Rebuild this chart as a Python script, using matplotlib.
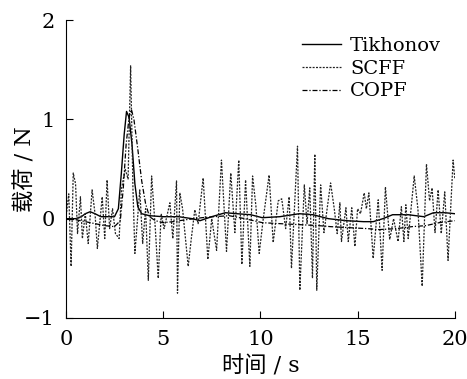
import matplotlib.pyplot as plt

# Tikhonov (smooth solid line)
t_tik = [0, 0.5, 0.8, 1.0, 1.25, 1.5, 1.8, 2.1, 2.5, 2.7, 2.85, 3.0, 3.12, 3.25,
         3.4, 3.55, 3.7, 3.9, 4.3, 5.0, 5.8, 6.5, 6.9, 7.5, 8.2, 8.8, 9.5, 10.1,
         11.0, 12.0, 12.7, 13.5, 14.4, 15.3, 15.8, 16.3, 16.8, 17.6, 18.4, 18.9,
         19.5, 20.0]
f_tik = [0.0, 0.0, 0.02, 0.05, 0.07, 0.05, 0.02, 0.02, 0.02, 0.1, 0.45, 0.85,
         1.08, 1.02, 0.75, 0.35, 0.12, 0.05, 0.03, 0.02, 0.02, 0.0, -0.02, 0.02,
         0.06, 0.05, 0.04, 0.01, 0.02, 0.05, 0.04, 0.0, -0.02, -0.03, -0.03, 0.0,
         0.04, 0.04, 0.02, 0.06, 0.06, 0.05]

# SCFF (noisy dotted line)
t_scff = [0.0, 0.15, 0.27, 0.38, 0.5, 0.6, 0.75, 0.85, 1.0, 1.15, 1.35, 1.5,
          1.62, 1.87, 2.0, 2.12, 2.25, 2.4, 2.55, 2.74, 2.86, 3.05, 3.2, 3.33,
          3.45, 3.55, 3.8, 3.95, 4.1, 4.24, 4.41, 4.6, 4.75, 4.9, 5.05, 5.35,
          5.5, 5.69, 5.74, 5.86, 6.0, 6.15, 6.29, 6.45, 6.63, 6.8, 7.06, 7.3,
          7.5, 7.75, 8.0, 8.26, 8.48, 8.69, 8.89, 9.05, 9.24, 9.46, 9.6, 9.77,
          9.94, 10.15, 10.45, 10.66, 10.92, 11.1, 11.3, 11.48, 11.6, 11.91,
          12.03, 12.26, 12.4, 12.54, 12.68, 12.8, 12.9, 13.1, 13.27, 13.61,
          13.8, 13.95, 14.09, 14.17, 14.4, 14.52, 14.7, 14.86, 15.0, 15.15,
          15.34, 15.45, 15.58, 15.8, 16.06, 16.26, 16.43, 16.65, 16.85, 17.08,
          17.25, 17.38, 17.48, 17.6, 17.91, 18.1, 18.32, 18.54, 18.7, 18.83,
          18.98, 19.14, 19.3, 19.48, 19.65, 19.91, 20.0]
f_scff = [0.0, 0.25, -0.48, 0.46, 0.35, -0.15, 0.22, -0.2, 0.05, -0.25, 0.29,
          0.05, -0.3, 0.22, -0.2, 0.39, -0.1, 0.1, -0.15, -0.2, 0.3, 0.5, 0.4,
          1.54, 0.3, -0.35, 0.29, -0.25, 0.1, -0.62, 0.43, -0.1, -0.6, 0.05,
          -0.1, 0.16, -0.2, 0.38, -0.75, 0.26, 0.1, -0.2, -0.48, -0.2, 0.09,
          -0.05, 0.41, -0.41, 0.0, -0.32, 0.59, -0.33, 0.46, -0.14, 0.59,
          -0.46, 0.39, -0.48, 0.43, 0.13, -0.35, 0.0, 0.44, -0.24, 0.18, 0.2,
          -0.1, 0.22, -0.5, 0.73, -0.72, 0.34, -0.05, 0.31, -0.6, 0.65, -0.72,
          0.34, -0.14, 0.36, 0.1, -0.15, 0.16, -0.23, 0.11, -0.23, 0.11, -0.28,
          0.1, 0.05, 0.26, 0.1, 0.26, -0.4, 0.19, -0.52, 0.32, -0.21, 0.0,
          -0.23, 0.12, -0.23, 0.14, -0.2, 0.43, 0.1, -0.68, 0.55, 0.18, 0.31,
          -0.14, 0.29, -0.15, 0.27, -0.42, 0.59, 0.4]

# COPF (smooth dash-dot line)
t_copf = [0, 0.5, 1.0, 1.5, 2.0, 2.5, 2.8, 2.95, 3.1, 3.25, 3.37, 3.5, 3.7,
          3.9, 4.1, 4.3, 4.6, 5.0, 5.5, 6.2, 7.0, 7.6, 8.4, 9.2, 10.1, 11.0,
          12.0, 13.0, 13.6, 14.5, 15.5, 16.1, 17.0, 17.8, 18.5, 19.2, 20.0]
f_copf = [0.0, -0.01, -0.03, -0.05, -0.07, -0.08, -0.02, 0.3, 0.75, 1.02, 1.1,
          1.0, 0.7, 0.38, 0.15, 0.02, -0.02, -0.04, -0.03, -0.01, 0.01, 0.02,
          0.03, 0.0, -0.04, -0.05, -0.06, -0.07, -0.08, -0.09, -0.1, -0.11,
          -0.1, -0.08, -0.07, -0.04, -0.02]

x_ticks = [0, 5, 10, 15, 20]
y_ticks = [-1, 0, 1, 2]

fonts = ['DejaVu Serif', 'Noto Sans CJK SC']
plt.rcParams['font.family'] = fonts
plt.rcParams['axes.unicode_minus'] = True

fig = plt.figure(figsize=(4.67, 3.79), dpi=100)
ax = fig.add_axes([0.141, 0.161, 0.833, 0.786])

ax.plot(t_tik, f_tik, color='black', lw=1.0, label='Tikhonov')
ax.plot(t_scff, f_scff, color='#222222', lw=0.9, linestyle=(0, (1.6, 1.1)),
        label='SCFF')
ax.plot(t_copf, f_copf, color='black', lw=0.9,
        linestyle=(0, (4, 1.5, 1, 1.5)), label='COPF')

ax.set_xlim(0, 20)
ax.set_ylim(-1, 2)
ax.set_xticks(x_ticks)
ax.set_yticks(y_ticks)
ax.spines['top'].set_visible(False)
ax.spines['right'].set_visible(False)
ax.tick_params(direction='in', length=5, width=0.8, labelsize=15)
ax.tick_params(axis='x', pad=9)
ax.tick_params(axis='y', pad=8)

ax.set_xlabel('时间 / s', fontsize=16, labelpad=4)
ax.set_ylabel('载荷 / N', fontsize=16)
ax.yaxis.set_label_coords(-0.075, 0.5)

ax.legend(loc='upper right', bbox_to_anchor=(1.0, 0.99), frameon=False,
          fontsize=14, handlelength=2.0, handletextpad=0.5,
          labelspacing=0.25, borderpad=0.2)

plt.savefig('out.png', dpi=100)
